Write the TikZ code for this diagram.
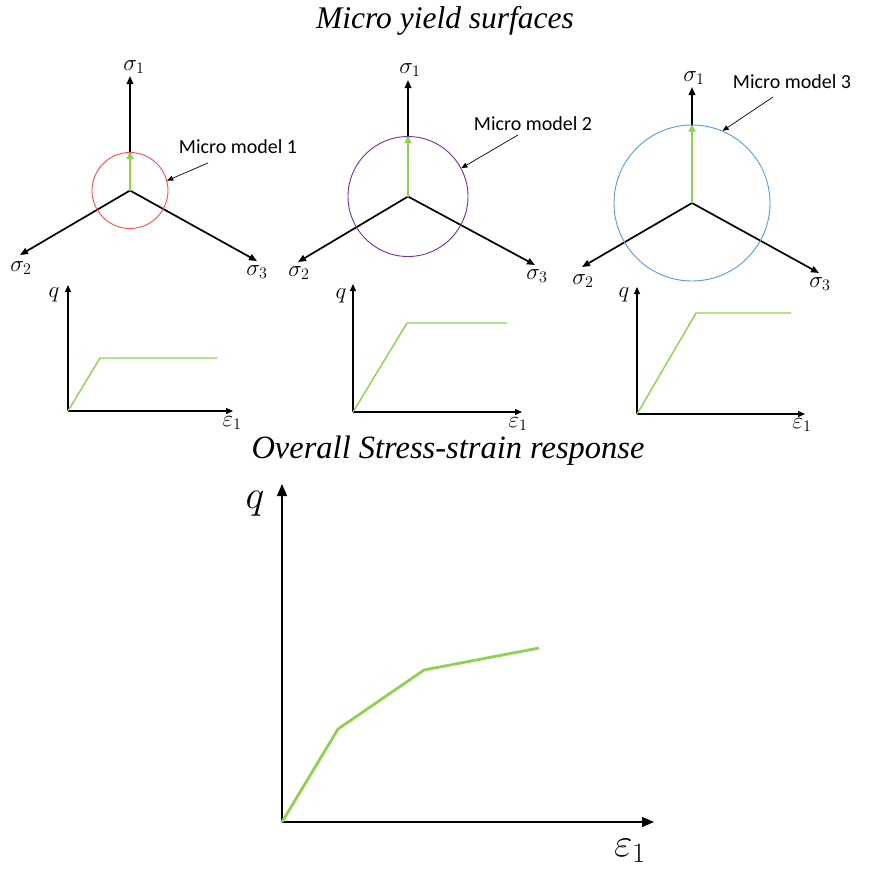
\RequirePackage{fix-cm}
\documentclass[tikz,border=0pt]{standalone}
\usepackage{fontspec}
\newfontfamily\calib{Carlito}
\newfontfamily\tnr{Liberation Serif}
\usetikzlibrary{arrows.meta}
\definecolor{gr}{HTML}{92D050}
\definecolor{redc}{HTML}{FF4B4B}
\definecolor{purc}{HTML}{7030A0}
\definecolor{bluc}{HTML}{5B9BD5}
\begin{document}
\begin{tikzpicture}[x=1pt,y=-1pt,
  axis/.style={line width=1.7pt,-{Triangle[length=8pt,width=6.5pt]}},
  gaxis/.style={line width=1.3pt,-{Triangle[length=7pt,width=6pt]}},
  garrow/.style={gr,line width=2.8pt,-{Triangle[length=7pt,width=7pt]}},
  leader/.style={line width=0.7pt,-{Triangle[length=6pt,width=5pt]}},
  yieldc/.style={circle,draw,inner sep=0pt,line width=0.9pt},
  curve/.style={gr,line width=1.4pt},
  bigcurve/.style={gr,line width=2.8pt,line join=round},
  sig/.style={inner sep=0pt,font=\fontsize{23}{26}\selectfont},
  big/.style={inner sep=0pt,font=\fontsize{40}{46}\selectfont},
  lab/.style={inner sep=0pt,font=\calib\fontsize{20}{24}\selectfont},
  title/.style={inner sep=0pt,anchor=base,font=\tnr\itshape\fontsize{31.5}{36}\selectfont}]
\path[use as bounding box] (0,0) rectangle (873,868);

\node[title] (t1) at (445,28) {Micro yield surfaces};
\node[title,font=\tnr\itshape\fontsize{32.5}{36}\selectfont] (t2) at (448,458) {Overall Stress-strain response};

% ---------- diagram 1
\coordinate (c1) at (130,190.5);
\coordinate (u1) at (130,76);
\coordinate (l1) at (20,255);
\coordinate (r1) at (257,261);
\draw[axis] (c1) -- (u1);
\draw[axis] (c1) -- (l1);
\draw[axis] (c1) -- (r1);
\node[yieldc,draw=redc,minimum size=76pt] (s1) at (c1) {};
\draw[garrow] (c1) -- (s1.north);
\node[sig] (u1t) at (134,67) {$\sigma_1$};
\node[sig] (l1t) at (21,268) {$\sigma_2$};
\node[sig] (r1t) at (257,272) {$\sigma_3$};
\node[lab] (m1) at (238,147) {Micro model 1};
\coordinate (m1s) at (208,163);
\draw[leader] (m1s) -- (s1.15);

% ---------- diagram 2
\coordinate (c2) at (408,196.5);
\coordinate (u2) at (408,80);
\coordinate (l2) at (298,262);
\coordinate (r2) at (535,265);
\draw[axis] (c2) -- (u2);
\draw[axis] (c2) -- (l2);
\draw[axis] (c2) -- (r2);
\node[yieldc,draw=purc,minimum size=120pt] (s2) at (c2) {};
\draw[garrow] (c2) -- (s2.north);
\node[sig] (u2t) at (410,70) {$\sigma_1$};
\node[sig] (l2t) at (299,273) {$\sigma_2$};
\node[sig] (r2t) at (537,276) {$\sigma_3$};
\node[lab] (m2) at (533,124) {Micro model 2};
\coordinate (m2s) at (518,135);
\draw[leader] (m2s) -- (s2.28);

% ---------- diagram 3
\coordinate (c3) at (692,203);
\coordinate (u3) at (692,87);
\coordinate (l3) at (582,267);
\coordinate (r3) at (819,273);
\draw[axis] (c3) -- (u3);
\draw[axis] (c3) -- (l3);
\draw[axis] (c3) -- (r3);
\node[yieldc,draw=bluc,minimum size=156pt] (s3) at (c3) {};
\draw[garrow] (c3) -- (s3.north);
\node[sig] (u3t) at (694,78) {$\sigma_1$};
\node[sig] (l3t) at (583,281) {$\sigma_2$};
\node[sig] (r3t) at (820,284) {$\sigma_3$};
\node[lab] (m3) at (792,82) {Micro model 3};
\coordinate (m3s) at (773,97);
\draw[leader] (m3s) -- (s3.67);

% ---------- small graphs
\coordinate (o1) at (68,411);
\coordinate (y1) at (68,285);
\coordinate (x1) at (233,411);
\coordinate (k1) at (100,358);
\coordinate (e1) at (217,358);
\draw[gaxis] (o1) -- (y1);
\draw[gaxis] (o1) -- (x1);
\draw[curve] (o1) -- (k1) -- (e1);
\node[sig] (q1) at (54,295) {$q$};
\node[sig] (eps1) at (232,423) {$\varepsilon_1$};

\coordinate (o2) at (353,412);
\coordinate (y2) at (353,284);
\coordinate (x2) at (522,412);
\coordinate (k2) at (407,323);
\coordinate (e2) at (507,323);
\draw[gaxis] (o2) -- (y2);
\draw[gaxis] (o2) -- (x2);
\draw[curve] (o2) -- (k2) -- (e2);
\node[sig] (q2) at (341,296) {$q$};
\node[sig] (eps2) at (518,424) {$\varepsilon_1$};

\coordinate (o3) at (637,414);
\coordinate (y3) at (637,287);
\coordinate (x3) at (805,414);
\coordinate (k3) at (696,313);
\coordinate (e3) at (791,313);
\draw[gaxis] (o3) -- (y3);
\draw[gaxis] (o3) -- (x3);
\draw[curve] (o3) -- (k3) -- (e3);
\node[sig] (q3) at (624,295) {$q$};
\node[sig] (eps3) at (802,425) {$\varepsilon_1$};

% ---------- big graph
\coordinate (O) at (282,822);
\coordinate (Y) at (282,484);
\coordinate (X) at (654,822);
\coordinate (P1) at (338,729);
\coordinate (P2) at (424,670);
\coordinate (P3) at (539,648);
\draw[line width=1.3pt,-{Triangle[length=12pt,width=10pt]}] (O) -- (Y);
\draw[line width=1.3pt,-{Triangle[length=12pt,width=10pt]}] (O) -- (X);
\draw[bigcurve] (O) -- (P1) -- (P2) -- (P3);
\node[big] (Q) at (255,504) {$q$};
\node[big] (E) at (630,851) {$\varepsilon_1$};
\end{tikzpicture}
\end{document}
